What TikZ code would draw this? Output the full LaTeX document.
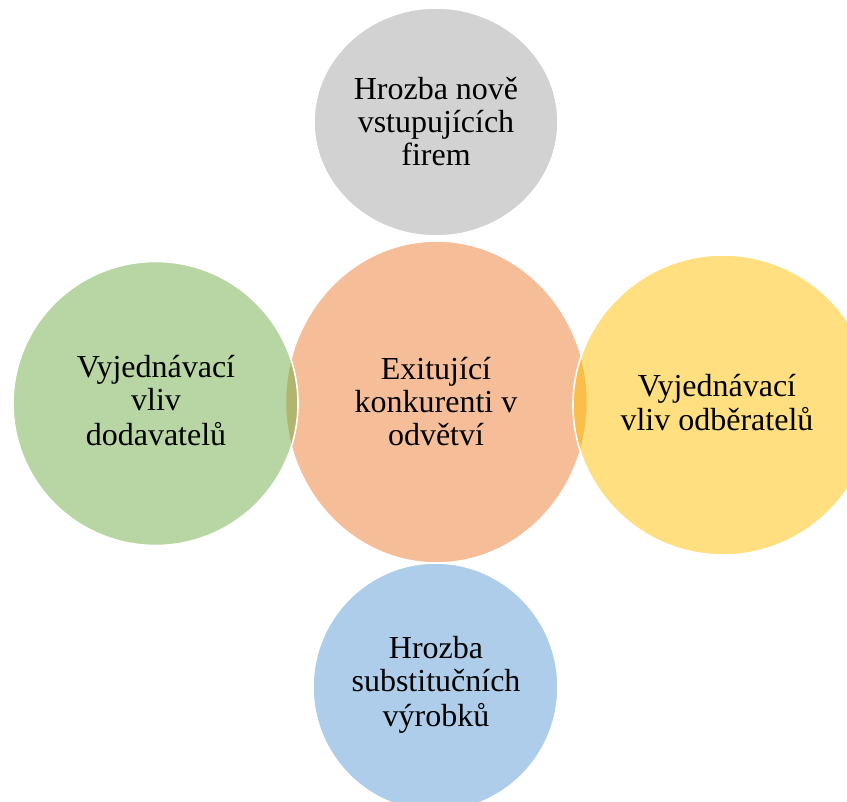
\documentclass[tikz,border=0pt]{standalone}
\usepackage{fontspec}
\setmainfont{Liberation Serif}
\usetikzlibrary{shapes.geometric}
\definecolor{cOrange}{HTML}{ED7D31}
\definecolor{cGray}{HTML}{A5A5A5}
\definecolor{cGreen}{HTML}{70AD47}
\definecolor{cYellow}{HTML}{FFC000}
\definecolor{cBlue}{HTML}{5B9BD5}
\begin{document}
\begin{tikzpicture}[x=1pt,y=-1pt,
  blob/.style={ellipse, inner sep=0pt, draw=white, line width=1.6pt, fill opacity=0.5, draw opacity=1},
  lbl/.style={align=center, inner sep=0pt, font=\fontsize{32}{33}\selectfont, text=black}]
\useasboundingbox (0,0) rectangle (847,802);
\node[blob, fill=cOrange, minimum width=302pt, minimum height=322pt] (core) at (436.5,402) {};
\node[blob, fill=cGray, minimum width=244pt, minimum height=228pt] (newc) at (436,122) {};
\node[blob, fill=cGreen, minimum width=285pt, minimum height=284pt] (supp) at (155.5,403.5) {};
\node[blob, fill=cYellow, minimum width=300pt, minimum height=300pt] (buy) at (723,405) {};
\node[blob, fill=cBlue, minimum width=245pt, minimum height=248pt] (subs) at (435.5,687) {};
\node[lbl] (tnew) at (436,125.9) {\strut Hrozba nově\\\strut vstupujících\\\strut firem};
\node[lbl] (tcore) at (436,406.4) {\strut Exitující\\\strut konkurenti v\\\strut odvětví};
\node[lbl] (tsupp) at (156,404.9) {\strut Vyjednávací\\\strut vliv\\\strut dodavatelů};
\node[lbl] (tbuy) at (717,406.9) {\strut Vyjednávací\\\strut vliv odběratelů};
\node[lbl] (tsubs) at (436,685.9) {\strut Hrozba\\\strut substitučních\\\strut výrobků};
\end{tikzpicture}
\end{document}
